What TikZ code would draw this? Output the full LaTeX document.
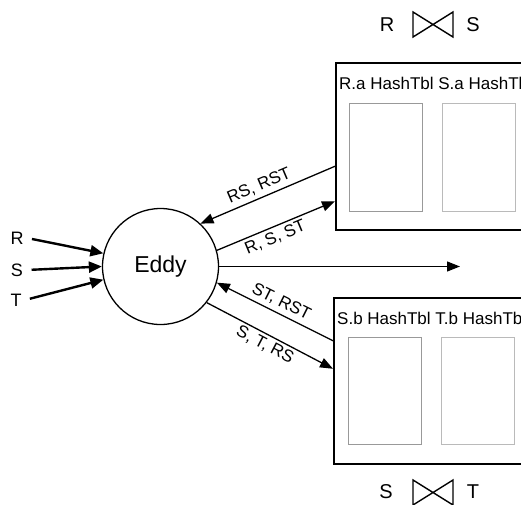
\documentclass[tikz,border=0pt]{standalone}
\usepackage{fontspec}
\setmainfont{Liberation Sans}
\usetikzlibrary{shapes,arrows,positioning,calc,arrows.meta}

\newcommand{\joinmark}[1]{\draw[line width=1.4pt, line join=miter, shift={(#1)}] (-20,-12.5) -- (20,12.5) -- (20,-12.5) -- (-20,12.5) -- cycle;}

\begin{document}
\begin{tikzpicture}[x=1pt, y=-1pt,
    flow/.style={line width=1.3pt, -{Triangle[length=13pt,width=10pt]}},
    feed/.style={line width=2.4pt, -{Triangle[length=13pt,width=11pt]}},
    opbox/.style={draw, line width=1.5pt, minimum width=210pt, minimum height=167pt, anchor=north west},
    hashtbl/.style={draw, line width=1.3pt, minimum width=73pt, minimum height=108pt, anchor=north west},
    tag/.style={font=\fontsize{17}{20}\selectfont, inner sep=2pt},
    rel/.style={font=\fontsize{20}{24}\selectfont}]
    \useasboundingbox (0,0) rectangle (521,504);
    \clip (0,0) rectangle (521,504);

    % Eddy and its inputs
    \node[draw, circle, line width=1.3pt, minimum size=116pt, font=\fontsize{23}{27}\selectfont] (eddy) at (160.5,266.5) {Eddy};
    \node[font=\fontsize{18}{21}\selectfont] (r) at (17,238) {R};
    \node[font=\fontsize{18}{21}\selectfont] (s) at (17,270) {S};
    \node[font=\fontsize{18}{21}\selectfont] (t) at (16,300) {T};
    \draw[feed, shorten <=5pt] (r.east) -- (eddy.167);
    \draw[feed, shorten <=5pt] (s.east) -- (eddy.west);
    \draw[feed, shorten <=5pt] (t.east) -- (eddy.193);
    \coordinate (out) at (460,266.5);
    \draw[flow] (eddy.east) -- (out);

    % R join S
    \node[opbox] (rsbox) at (335,62) {};
    \node[hashtbl, draw=black!40] (ra) at (349,103) {};
    \node[hashtbl, draw=black!27] (sa) at (442,103) {};
    \node[tag, anchor=west] (rslbl) at (337,83) {R.a HashTbl S.a HashTbl};
    \node[rel] (rsl) at (387,25) {R};
    \joinmark{433,24.5}
    \node[rel] (rsr) at (473,25) {S};
    \draw[flow] ([yshift=-20pt]rsbox.west) -- node[tag, sloped, above, pos=0.53, inner sep=4pt] {RS, RST} (eddy.47);
    \draw[flow] (eddy.16) -- node[tag, sloped, below, pos=0.46, inner sep=3pt] {R, S, ST} ([yshift=-55pt]rsbox.west);

    % S join T
    \node[opbox, minimum height=166pt] (stbox) at (333,297) {};
    \node[hashtbl, minimum height=107pt, draw=black!40] (sb) at (348,337) {};
    \node[hashtbl, minimum height=107pt, draw=black!27] (tb) at (441,337) {};
    \node[tag, anchor=west] (stlbl) at (335,318) {S.b HashTbl T.b HashTbl};
    \node[rel] (stl) at (386,492) {S};
    \joinmark{433,492.5}
    \node[rel] (str) at (473,492) {T};
    \draw[flow] ([yshift=40pt]stbox.west) -- node[tag, sloped, above, pos=0.49, inner sep=4pt] {ST, RST} (eddy.-16);
    \draw[flow] (eddy.-38) -- node[tag, sloped, below, pos=0.5, inner sep=3pt] {S, T, RS} ([yshift=12pt]stbox.west);
\end{tikzpicture}
\end{document}
